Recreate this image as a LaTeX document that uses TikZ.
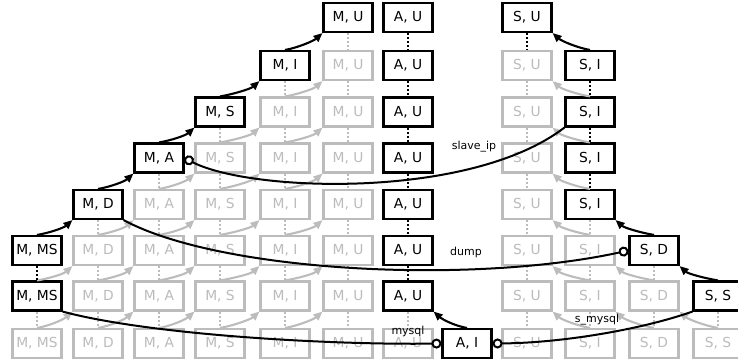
\documentclass[tikz,border=0pt]{standalone}
\usepackage{fontspec}
\setmainfont{DejaVu Sans}
\usetikzlibrary{arrows.meta}
\definecolor{lg}{RGB}{188,188,188}
\newcommand\collabel[1]{\ifcase#1 M, MS\or M, D\or M, A\or M, S\or M, I\or M, U\or A, U\or A, I\or S, U\or S, I\or S, D\or S, S\fi}
\def\colx{{37,98,159,220,285,348,408,467,527,590,654,718}}
\def\rowy{{17.5,65.5,112,158,204.5,250.5,296,343.5}}
\begin{document}
\begin{tikzpicture}[x=1pt,y=-1pt,
  box/.style={draw, line width=2.1pt, fill=white, minimum width=49pt, minimum height=29pt, inner sep=0pt, font=\fontsize{13.8}{16}\selectfont},
  gbox/.style={box, draw=lg, text=lg},
  bbox/.style={box, draw=black, text=black},
  tipstyle/.style={-{Triangle[length=9pt,width=7.5pt]}},
  gstep/.style={draw=lg, line width=2.1pt, tipstyle},
  bstep/.style={draw=black, line width=2.1pt, tipstyle},
  gdot/.style={draw=lg, line width=2pt, dotted},
  bdot/.style={draw=black, line width=2pt, dotted},
  dep/.style={draw=black, line width=2pt, -{Circle[length=10pt, fill=white]}},
  lab/.style={font=\fontsize{11}{13}\selectfont, inner sep=0pt, text=black},
]
\useasboundingbox (0,0) rectangle (738,362);
\clip (0,0) rectangle (738,362);
% gray nodes
\foreach \r/\c in {1/5,1/8, 2/4,2/5,2/8, 3/3,3/4,3/5,3/8, 4/2,4/3,4/4,4/5,4/8,
  5/1,5/2,5/3,5/4,5/5,5/8,5/9, 6/1,6/2,6/3,6/4,6/5,6/8,6/9,6/10,
  7/0,7/1,7/2,7/3,7/4,7/5,7/6,7/8,7/9,7/10,7/11}
{
  \pgfmathsetmacro\xx{\colx[\c]}
  \pgfmathsetmacro\yy{\rowy[\r]}
  \node[gbox] (n\r-\c) at (\xx,\yy) {\collabel{\c}};
}
% black nodes
\foreach \r/\c in {0/5,0/6,0/8, 1/4,1/6,1/9, 2/3,2/6,2/9, 3/2,3/6,3/9, 4/1,4/6,4/9,
  5/0,5/6,5/10, 6/0,6/6,6/11, 7/7}
{
  \pgfmathsetmacro\xx{\colx[\c]}
  \pgfmathsetmacro\yy{\rowy[\r]}
  \node[bbox] (n\r-\c) at (\xx,\yy) {\collabel{\c}};
}
% gray dotted verticals
\foreach \c/\t in {0/6, 1/4, 2/3, 3/2, 4/1, 5/0, 6/6, 8/1, 9/4, 10/5, 11/6}
{
  \foreach \r in {\t,...,6}
  {
    \pgfmathtruncatemacro\rb{\r+1}
    \draw[gdot] (n\r-\c.south) -- (n\rb-\c.north);
  }
}
% gray steps, M side
\foreach \r/\c in {7/0,7/1,7/2,7/3,7/4, 6/0,6/1,6/2,6/3,6/4, 5/1,5/2,5/3,5/4, 4/2,4/3,4/4, 3/3,3/4, 2/4}
{
  \pgfmathtruncatemacro\ra{\r-1}
  \pgfmathtruncatemacro\cb{\c+1}
  \draw[gstep] (n\r-\c.north) .. controls +(12,-2) and +(-9,8) .. (n\ra-\cb.south west);
}
% gray steps, S side
\foreach \r/\c in {7/9,7/10,7/11, 6/9,6/10, 5/9, 4/9, 3/9, 2/9}
{
  \pgfmathtruncatemacro\ra{\r-1}
  \pgfmathtruncatemacro\cb{\c-1}
  \draw[gstep] (n\r-\c.north) .. controls +(-12,-2) and +(9,8) .. (n\ra-\cb.south east);
}
% black dotted verticals
\foreach \r/\c in {5/0, 0/6,1/6,2/6,3/6,4/6,5/6, 0/8, 1/9,2/9,3/9}
{
  \pgfmathtruncatemacro\rb{\r+1}
  \draw[bdot] (n\r-\c.south) -- (n\rb-\c.north);
}
% black steps
\foreach \r/\c in {5/0,4/1,3/2,2/3,1/4}
{
  \pgfmathtruncatemacro\ra{\r-1}
  \pgfmathtruncatemacro\cb{\c+1}
  \draw[bstep] (n\r-\c.north) .. controls +(12,-2) and +(-9,8) .. (n\ra-\cb.south west);
}
\foreach \r/\c in {6/11,5/10,1/9,7/7}
{
  \pgfmathtruncatemacro\ra{\r-1}
  \pgfmathtruncatemacro\cb{\c-1}
  \draw[bstep] (n\r-\c.north) .. controls +(-12,-2) and +(9,8) .. (n\ra-\cb.south east);
}
% dependency links
\draw[dep] (n2-9.south west) .. controls (470,200) and (250,192) .. (n3-2.east);
\draw[dep] (n4-1.south east) .. controls (220,272) and (470,285) .. (n5-10.west);
\draw[dep] (n6-0.south east) .. controls (150,335) and (330,345) .. (n7-7.west);
\draw[dep] (n6-11.south west) .. controls (640,330) and (560,343) .. (n7-7.east);
% labels
\node[lab] (l1) at (474,147) {slave\_ip};
\node[lab] (l2) at (466,252) {dump};
\node[lab] (l3) at (408,331) {mysql};
\node[lab] (l4) at (597,320) {s\_mysql};
\end{tikzpicture}
\end{document}
